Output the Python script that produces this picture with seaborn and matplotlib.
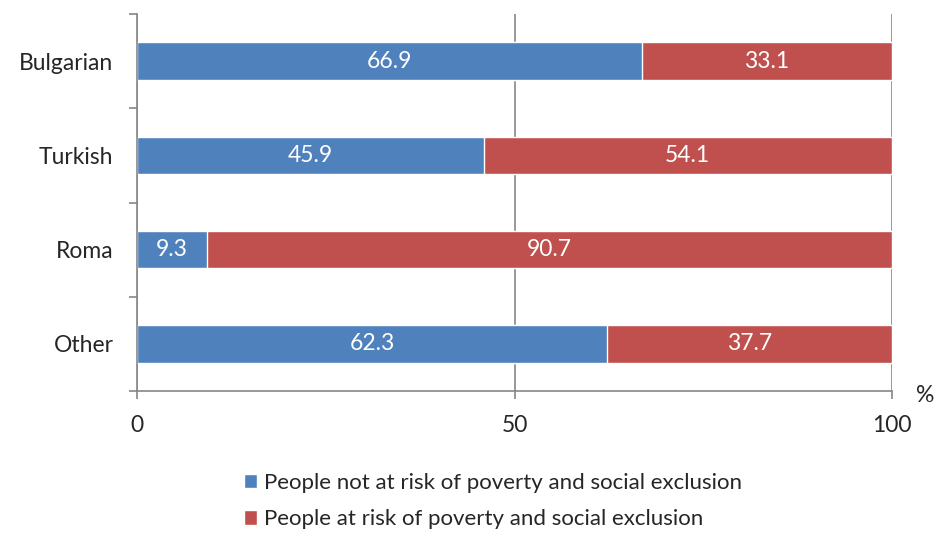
import numpy as np
import pandas as pd
import matplotlib
matplotlib.use("Agg")
import matplotlib.pyplot as plt
from matplotlib.patches import Patch
import seaborn as sns

GROUPS = ["Bulgarian", "Turkish", "Roma", "Other"]
NOT_AT_RISK = [66.9, 45.9, 9.3, 62.3]
AT_RISK = [33.1, 54.1, 90.7, 37.7]
X_TICKS = [0, 50, 100]
LABEL_NOT = "People not at risk of poverty and social exclusion"
LABEL_RISK = "People at risk of poverty and social exclusion"

BLUE = "#4F81BD"
RED = "#C0504D"
GREY = "#868686"


def main():
    sns.set_style("white")
    plt.rcParams["font.family"] = ["Lato", "DejaVu Sans"]

    df = pd.DataFrame({"group": GROUPS, "not_risk": NOT_AT_RISK, "risk": AT_RISK})
    df["total"] = df["not_risk"] + df["risk"]

    fig = plt.figure(figsize=(9.35, 5.37), dpi=100)
    # axes box: x 137..892 px, y 14..391 px
    ax = fig.add_axes([137 / 935, 1 - 391 / 537, 755 / 935, 377 / 537])

    # red first (cumulative), blue on top
    sns.barplot(data=df, x="total", y="group", orient="h", color=RED,
                width=0.40, saturation=1, ax=ax)
    sns.barplot(data=df, x="not_risk", y="group", orient="h", color=BLUE,
                width=0.40, saturation=1, ax=ax)

    for i, row in df.iterrows():
        ax.text(row["not_risk"] / 2, i, f"{row['not_risk']:.1f}", ha="center",
                va="center", color="white", fontsize=16.5)
        ax.text(row["not_risk"] + row["risk"] / 2, i, f"{row['risk']:.1f}",
                ha="center", va="center", color="white", fontsize=16.5)

    ax.set_xlim(0, 100)
    ax.set_ylim(len(GROUPS) - 0.5, -0.5)
    ax.set_xticks(X_TICKS)
    ax.set_xticklabels([str(t) for t in X_TICKS], fontsize=16.5)
    ax.set_yticks(range(len(GROUPS)))
    ax.set_yticklabels(GROUPS, fontsize=16.5)
    ax.set_yticks(np.arange(-0.5, len(GROUPS), 1), minor=True)
    ax.set_xlabel("")
    ax.set_ylabel("")

    ax.tick_params(axis="y", which="major", left=False, length=0, pad=17)
    ax.tick_params(axis="y", which="minor", left=True, length=5.5, color=GREY, width=1.2)
    ax.tick_params(axis="x", which="major", bottom=True, length=5.5, color=GREY,
                   width=1.2, pad=12, direction="out")

    ax.xaxis.grid(True, color=GREY, linewidth=1.2)
    ax.set_axisbelow(True)
    for side in ["top", "right"]:
        ax.spines[side].set_visible(False)
    for side in ["left", "bottom"]:
        ax.spines[side].set_color(GREY)
        ax.spines[side].set_linewidth(1.2)

    fig.text(925 / 935, 1 - 396 / 537, "%", ha="center", va="center", fontsize=16.5)

    handles = [Patch(facecolor=BLUE, label=LABEL_NOT),
               Patch(facecolor=RED, label=LABEL_RISK)]
    fig.legend(handles=handles, loc="center left",
               bbox_to_anchor=(244 / 935, 1 - 501 / 537),
               frameon=False, fontsize=16, borderpad=0, borderaxespad=0,
               handlelength=0.6, handleheight=0.6,
               handletextpad=0.3, labelspacing=0.75)

    fig.savefig("out.png", dpi=100)
    plt.close(fig)


if __name__ == "__main__":
    main()
